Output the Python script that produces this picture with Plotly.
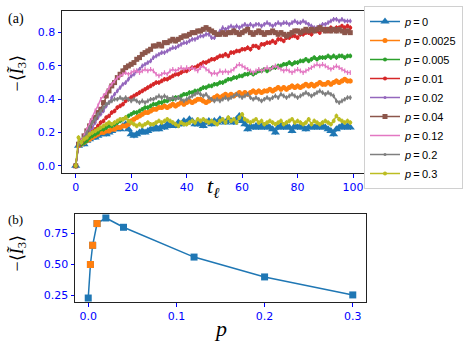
import plotly.graph_objects as go

# panel (a): -<I3> vs t_l for several p
t_steps = list(range(100))
p_labels = ["0", "0.0025", "0.005", "0.01", "0.02", "0.04", "0.12", "0.2", "0.3"]

i3_p0 = [0.00, 0.12, 0.14, 0.13, 0.15, 0.16, 0.17, 0.17, 0.18, 0.19,
         0.20, 0.19, 0.20, 0.21, 0.22, 0.23, 0.22, 0.24, 0.25, 0.22,
         0.19, 0.18, 0.19, 0.20, 0.21, 0.20, 0.21, 0.22, 0.22, 0.23,
         0.22, 0.24, 0.23, 0.25, 0.24, 0.25, 0.24, 0.26, 0.25, 0.27,
         0.26, 0.28, 0.27, 0.25, 0.25, 0.26, 0.24, 0.26, 0.27, 0.25,
         0.27, 0.26, 0.28, 0.27, 0.26, 0.28, 0.27, 0.26, 0.28, 0.30,
         0.27, 0.25, 0.22, 0.24, 0.23, 0.24, 0.23, 0.24, 0.23, 0.24,
         0.23, 0.22, 0.20, 0.23, 0.24, 0.23, 0.24, 0.23, 0.21, 0.24,
         0.23, 0.24, 0.23, 0.22, 0.23, 0.24, 0.23, 0.24, 0.23, 0.24,
         0.23, 0.22, 0.21, 0.19, 0.22, 0.23, 0.24, 0.23, 0.24, 0.23]

i3_p0025 = [0.00, 0.12, 0.13, 0.14, 0.15, 0.16, 0.17, 0.18, 0.19, 0.20,
            0.20, 0.21, 0.21, 0.22, 0.22, 0.23, 0.23, 0.24, 0.24, 0.25,
            0.27, 0.28, 0.29, 0.30, 0.31, 0.32, 0.32, 0.33, 0.34, 0.34,
            0.35, 0.35, 0.36, 0.35, 0.36, 0.37, 0.36, 0.37, 0.38, 0.37,
            0.38, 0.39, 0.38, 0.39, 0.40, 0.40, 0.39, 0.38, 0.39, 0.40,
            0.41, 0.42, 0.41, 0.42, 0.43, 0.42, 0.43, 0.42, 0.43, 0.44,
            0.43, 0.44, 0.43, 0.44, 0.45, 0.44, 0.45, 0.44, 0.45, 0.45,
            0.46, 0.45, 0.46, 0.47, 0.46, 0.47, 0.46, 0.47, 0.48, 0.47,
            0.48, 0.47, 0.48, 0.49, 0.48, 0.49, 0.48, 0.49, 0.50, 0.49,
            0.49, 0.50, 0.49, 0.50, 0.51, 0.50, 0.51, 0.52, 0.51, 0.51]

i3_p005 = [0.00, 0.13, 0.13, 0.14, 0.15, 0.17, 0.18, 0.19, 0.20, 0.22,
           0.22, 0.23, 0.24, 0.24, 0.25, 0.26, 0.27, 0.28, 0.29, 0.30,
           0.31, 0.32, 0.32, 0.33, 0.34, 0.35, 0.35, 0.36, 0.37, 0.37,
           0.38, 0.38, 0.39, 0.39, 0.40, 0.40, 0.41, 0.41, 0.42, 0.43,
           0.43, 0.44, 0.44, 0.45, 0.45, 0.46, 0.47, 0.47, 0.48, 0.48,
           0.49, 0.49, 0.50, 0.50, 0.51, 0.52, 0.52, 0.53, 0.53, 0.54,
           0.54, 0.55, 0.55, 0.56, 0.55, 0.56, 0.57, 0.57, 0.58, 0.57,
           0.58, 0.59, 0.59, 0.60, 0.60, 0.61, 0.61, 0.62, 0.61, 0.62,
           0.62, 0.63, 0.63, 0.64, 0.63, 0.64, 0.65, 0.64, 0.65, 0.65,
           0.65, 0.66, 0.65, 0.66, 0.65, 0.66, 0.66, 0.65, 0.66, 0.66]

i3_p01 = [0.00, 0.13, 0.14, 0.16, 0.18, 0.19, 0.21, 0.22, 0.24, 0.26,
          0.27, 0.29, 0.30, 0.32, 0.33, 0.35, 0.36, 0.37, 0.39, 0.40,
          0.41, 0.42, 0.43, 0.44, 0.45, 0.46, 0.47, 0.48, 0.49, 0.50,
          0.50, 0.51, 0.52, 0.52, 0.53, 0.54, 0.55, 0.55, 0.56, 0.57,
          0.57, 0.58, 0.59, 0.59, 0.60, 0.61, 0.62, 0.62, 0.63, 0.64,
          0.64, 0.65, 0.66, 0.66, 0.67, 0.66, 0.68, 0.68, 0.69, 0.69,
          0.70, 0.70, 0.71, 0.70, 0.72, 0.72, 0.71, 0.73, 0.73, 0.74,
          0.74, 0.75, 0.74, 0.76, 0.76, 0.75, 0.77, 0.77, 0.78, 0.78,
          0.77, 0.79, 0.79, 0.80, 0.80, 0.79, 0.81, 0.81, 0.80, 0.82,
          0.82, 0.81, 0.83, 0.82, 0.83, 0.83, 0.84, 0.83, 0.84, 0.83]

i3_p02 = [0.00, 0.13, 0.14, 0.17, 0.19, 0.21, 0.23, 0.26, 0.29, 0.31,
          0.33, 0.36, 0.38, 0.41, 0.43, 0.45, 0.47, 0.49, 0.50, 0.52,
          0.54, 0.55, 0.57, 0.58, 0.60, 0.61, 0.62, 0.63, 0.65, 0.66,
          0.67, 0.68, 0.68, 0.69, 0.70, 0.71, 0.71, 0.72, 0.73, 0.74,
          0.74, 0.75, 0.76, 0.76, 0.77, 0.78, 0.78, 0.79, 0.79, 0.77,
          0.77, 0.79, 0.81, 0.83, 0.82, 0.83, 0.84, 0.83, 0.84, 0.83,
          0.84, 0.85, 0.84, 0.85, 0.84, 0.85, 0.85, 0.84, 0.85, 0.86,
          0.85, 0.84, 0.85, 0.86, 0.85, 0.86, 0.86, 0.85, 0.86, 0.87,
          0.86, 0.86, 0.87, 0.86, 0.85, 0.84, 0.83, 0.83, 0.84, 0.85,
          0.85, 0.86, 0.87, 0.88, 0.88, 0.87, 0.88, 0.87, 0.87, 0.87]

i3_p04 = [0.00, 0.13, 0.15, 0.18, 0.21, 0.24, 0.27, 0.29, 0.32, 0.34,
          0.38, 0.42, 0.45, 0.48, 0.50, 0.53, 0.55, 0.57, 0.59, 0.60,
          0.61, 0.62, 0.64, 0.65, 0.67, 0.68, 0.69, 0.70, 0.72, 0.72,
          0.73, 0.72, 0.74, 0.74, 0.75, 0.76, 0.75, 0.76, 0.77, 0.78,
          0.78, 0.79, 0.80, 0.80, 0.81, 0.81, 0.82, 0.83, 0.82, 0.81,
          0.80, 0.79, 0.79, 0.80, 0.79, 0.80, 0.80, 0.81, 0.80, 0.79,
          0.80, 0.81, 0.82, 0.80, 0.79, 0.80, 0.81, 0.80, 0.79, 0.80,
          0.80, 0.81, 0.80, 0.79, 0.80, 0.79, 0.78, 0.79, 0.80, 0.81,
          0.81, 0.80, 0.81, 0.82, 0.81, 0.82, 0.81, 0.82, 0.83, 0.82,
          0.81, 0.82, 0.81, 0.82, 0.81, 0.82, 0.81, 0.80, 0.81, 0.80]

i3_p12 = [0.00, 0.13, 0.15, 0.18, 0.22, 0.26, 0.29, 0.33, 0.36, 0.40,
          0.42, 0.44, 0.47, 0.49, 0.51, 0.53, 0.54, 0.55, 0.56, 0.55,
          0.56, 0.57, 0.57, 0.56, 0.57, 0.58, 0.57, 0.58, 0.57, 0.55,
          0.54, 0.55, 0.56, 0.55, 0.57, 0.58, 0.57, 0.58, 0.59, 0.58,
          0.59, 0.58, 0.59, 0.58, 0.57, 0.59, 0.60, 0.58, 0.57, 0.55,
          0.56, 0.55, 0.57, 0.56, 0.57, 0.56, 0.57, 0.58, 0.60, 0.61,
          0.60, 0.59, 0.58, 0.57, 0.56, 0.57, 0.58, 0.57, 0.58, 0.59,
          0.58, 0.59, 0.60, 0.59, 0.58, 0.57, 0.58, 0.57, 0.56, 0.57,
          0.58, 0.57, 0.56, 0.57, 0.58, 0.59, 0.60, 0.61, 0.60, 0.61,
          0.60, 0.59, 0.58, 0.59, 0.60, 0.59, 0.58, 0.57, 0.56, 0.56]

i3_p2 = [0.00, 0.13, 0.14, 0.17, 0.20, 0.23, 0.26, 0.28, 0.31, 0.33,
         0.35, 0.37, 0.38, 0.39, 0.40, 0.40, 0.41, 0.40, 0.41, 0.40,
         0.39, 0.40, 0.39, 0.38, 0.39, 0.38, 0.39, 0.40, 0.40, 0.41,
         0.42, 0.41, 0.42, 0.41, 0.40, 0.41, 0.40, 0.41, 0.40, 0.39,
         0.40, 0.41, 0.42, 0.43, 0.44, 0.43, 0.42, 0.43, 0.41, 0.40,
         0.39, 0.40, 0.39, 0.40, 0.41, 0.40, 0.41, 0.42, 0.43, 0.42,
         0.41, 0.42, 0.43, 0.41, 0.40, 0.41, 0.40, 0.39, 0.40, 0.41,
         0.40, 0.41, 0.42, 0.41, 0.43, 0.42, 0.41, 0.42, 0.43, 0.42,
         0.41, 0.42, 0.43, 0.44, 0.43, 0.42, 0.43, 0.44, 0.45, 0.44,
         0.43, 0.44, 0.43, 0.42, 0.39, 0.38, 0.39, 0.40, 0.41, 0.41]

i3_p3 = [0.00, 0.17, 0.14, 0.16, 0.17, 0.19, 0.20, 0.21, 0.22, 0.23,
         0.24, 0.25, 0.26, 0.25, 0.26, 0.27, 0.28, 0.28, 0.29, 0.27,
         0.26, 0.25, 0.24, 0.25, 0.24, 0.25, 0.26, 0.25, 0.25, 0.26,
         0.27, 0.26, 0.27, 0.28, 0.27, 0.26, 0.25, 0.24, 0.26, 0.25,
         0.25, 0.26, 0.27, 0.26, 0.28, 0.27, 0.28, 0.27, 0.26, 0.27,
         0.26, 0.25, 0.27, 0.28, 0.26, 0.29, 0.27, 0.28, 0.26, 0.29,
         0.31, 0.28, 0.27, 0.26, 0.27, 0.28, 0.26, 0.27, 0.25, 0.26,
         0.27, 0.26, 0.25, 0.26, 0.27, 0.25, 0.26, 0.27, 0.28, 0.26,
         0.27, 0.26, 0.25, 0.26, 0.28, 0.25, 0.27, 0.26, 0.25, 0.26,
         0.27, 0.26, 0.25, 0.27, 0.30, 0.28, 0.27, 0.26, 0.27, 0.26]

series = [i3_p0, i3_p0025, i3_p005, i3_p01, i3_p02, i3_p04, i3_p12, i3_p2, i3_p3]

# panel (b): saturation value vs p
p_values = [0, 0.0025, 0.005, 0.01, 0.02, 0.04, 0.12, 0.2, 0.3]
i3_final = [0.23, 0.50, 0.655, 0.83, 0.875, 0.80, 0.56, 0.40, 0.255]
p_highlight = [0.0025, 0.005, 0.01]
i3_highlight = [0.50, 0.655, 0.83]

colors = ["#1f77b4", "#ff7f0e", "#2ca02c", "#d62728", "#9467bd",
          "#8c564b", "#e377c2", "#7f7f7f", "#bcbd22"]
symbols = ["triangle-up", "circle", "circle", "circle", "circle",
           "square", "line-ew", "circle", "circle"]
sizes = [8, 5, 4, 4, 3, 5, 1, 3, 4]

fig = go.Figure()
for lab, ys, c, s, sz in zip(p_labels, series, colors, symbols, sizes):
    fig.add_trace(go.Scatter(
        x=t_steps, y=ys, mode="lines+markers",
        name=f"<i>p</i>\u2009=\u2009{lab}",
        line=dict(color=c, width=1.5),
        marker=dict(color=c, symbol=s, size=sz, line=dict(width=0)),
        error_y=dict(type="constant", value=0.014, color=c, thickness=1.2, width=0),
        xaxis="x", yaxis="y"))

fig.add_trace(go.Scatter(
    x=p_values, y=i3_final, mode="lines+markers", showlegend=False,
    line=dict(color="#1f77b4", width=1.5),
    marker=dict(symbol="square", size=7, color="#1f77b4"),
    xaxis="x2", yaxis="y2"))
fig.add_trace(go.Scatter(
    x=p_highlight, y=i3_highlight, mode="markers", showlegend=False,
    marker=dict(symbol="square", size=7, color="#ff7f0e"),
    xaxis="x2", yaxis="y2"))

W, H = 464, 345
axis_common = dict(showline=True, linecolor="#222", linewidth=1, mirror=True,
                   ticks="outside", tickcolor="blue", ticklen=3.5,
                   tickfont=dict(family="DejaVu Sans", size=11, color="blue"),
                   showgrid=False, zeroline=False, automargin=False)

fig.update_layout(
    width=W, height=H, margin=dict(l=0, r=0, t=0, b=0),
    paper_bgcolor="white", plot_bgcolor="white",
    xaxis=dict(domain=[62 / W, 364 / W], range=[-4.95, 103.95],
               tickvals=[0, 20, 40, 60, 80, 100], anchor="y", **axis_common),
    yaxis=dict(domain=[1 - 173 / H, 1 - 11 / H], range=[-0.043, 0.93],
               tickvals=[0, 0.2, 0.4, 0.6, 0.8], tickformat=".1f", anchor="x",
               **axis_common),
    xaxis2=dict(domain=[75 / W, 366 / W], range=[-0.015, 0.315],
                tickvals=[0, 0.1, 0.2, 0.3], tickformat=".1f", anchor="y2",
                **axis_common),
    yaxis2=dict(domain=[1 - 302 / H, 1 - 214 / H], range=[0.198, 0.907],
                tickvals=[0.25, 0.5, 0.75], tickformat=".2f", anchor="x2",
                **axis_common),
    legend=dict(x=463 / W, y=1 - 6 / H, xanchor="right", yanchor="top",
                bgcolor="white", bordercolor="#d0d0d0", borderwidth=1,
                font=dict(family="Liberation Sans", size=11, color="black"),
                itemwidth=30),
    showlegend=True,
)

serif = "Liberation Serif"
ann = [
    dict(text="(a)", x=6 / W, y=1 - 9 / H, xanchor="left", yanchor="top", font=dict(size=14)),
    dict(text="(b)", x=6 / W, y=1 - 210 / H, xanchor="left", yanchor="top", font=dict(size=13)),
    dict(text="<i>t</i><sub><i>ℓ</i></sub>", x=213 / W, y=1 - 187 / H,
         xanchor="center", yanchor="middle", font=dict(size=22)),
    dict(text="<i>p</i>", x=220 / W, y=2 / H, xanchor="center", yanchor="bottom",
         font=dict(size=22)),
    dict(text="−⟨<i>Ĩ</i><sub>3</sub>⟩", x=4 / W, y=1 - 74 / H, xanchor="left",
         yanchor="middle", font=dict(size=18), textangle=-90),
    dict(text="−⟨<i>Ĩ</i><sub>3</sub>⟩", x=4 / W, y=1 - 254 / H, xanchor="left",
         yanchor="middle", font=dict(size=18), textangle=-90),
]
for a in ann:
    a["font"].update(family=serif, color="black")
    fig.add_annotation(xref="paper", yref="paper", showarrow=False, **a)

# the page body has a default 8px margin; drop it so the figure sits at (0, 0)
fig.write_html("out.html", config={"displayModeBar": False},
               post_script="document.body.style.margin='0';")
